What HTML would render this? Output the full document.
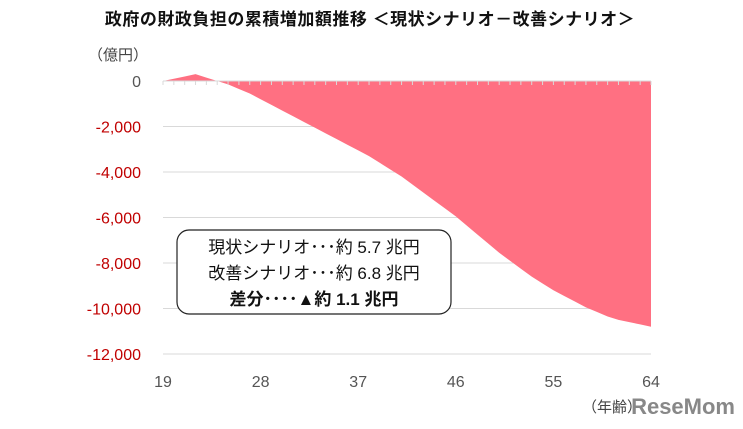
<!DOCTYPE html>
<html><head><meta charset="utf-8"><style>
body{margin:0;width:743px;height:424px;background:#fff;overflow:hidden;font-family:"Liberation Sans","Noto Sans CJK JP",sans-serif}
</style></head><body>
<svg id="c" width="743" height="424" xmlns="http://www.w3.org/2000/svg">
<text x="370" y="25" text-anchor="middle" font-size="17" font-weight="bold" fill="#111" letter-spacing="0.5">政府の財政負担の累積増加額推移 ＜現状シナリオ－改善シナリオ＞</text>
<text x="88" y="60" font-size="15" fill="#444">（億円）</text>
<g id="grid"></g><g id="area"></g><g id="ticks"></g><g id="ylab"></g><g id="xlab"></g>
<text x="582" y="412" font-size="15" fill="#444">（年齢）</text>
<text x="735" y="414" text-anchor="end" font-size="22" font-weight="bold" fill="#888">ReseMom</text>
<g>
<rect x="177" y="230" width="274" height="84" rx="12" fill="#fff" stroke="#222" stroke-width="1.2"/>
<text x="314" y="253" text-anchor="middle" font-size="17" fill="#111">現状シナリオ･･･約 5.7 兆円</text>
<text x="314" y="279" text-anchor="middle" font-size="17" fill="#111">改善シナリオ･･･約 6.8 兆円</text>
<text x="314" y="305" text-anchor="middle" font-size="17" font-weight="bold" fill="#111">差分････▲約 1.1 兆円</text>
</g>
</svg>
<script>
const ages=[19,20,21,22,23,24,25,26,27,28,29,30,31,32,33,34,35,36,37,38,39,40,41,42,43,44,45,46,47,48,49,50,51,52,53,54,55,56,57,58,59,60,61,62,63,64];
const values=[0,100,200,300,150,0,-150,-350,-550,-800,-1050,-1300,-1550,-1800,-2050,-2300,-2550,-2800,-3050,-3300,-3600,-3900,-4200,-4550,-4900,-5250,-5600,-5950,-6350,-6750,-7150,-7550,-7900,-8250,-8600,-8900,-9200,-9450,-9700,-9950,-10150,-10350,-10500,-10600,-10700,-10800];
const yTicks=[0,-2000,-4000,-6000,-8000,-10000,-12000];
const yTickLabels=["0","-2,000","-4,000","-6,000","-8,000","-10,000","-12,000"];
const xTicks=[19,28,37,46,55,64];
const NS="http://www.w3.org/2000/svg";
const X=a=>163+(a-19)*(651-163)/45;
const Y=v=>81+(-v)*(354-81)/12000;
function mk(t,p,at){const e=document.createElementNS(NS,t);for(const k in at)e.setAttribute(k,at[k]);document.getElementById(p).appendChild(e);return e;}
yTicks.forEach((v,i)=>{
 if(v!==0){const l=mk('line','grid',{x1:163,x2:651,y1:Y(v),y2:Y(v),stroke:'#d9d9d9','stroke-width':1});
 
 }
 const t=mk('text','ylab',{x:141,y:Y(v)+6,'text-anchor':'end','font-size':16,fill:v===0?'#555':'#c00000'});
 t.textContent=yTickLabels[i];
 
 
});
let d='M'+X(ages[0])+','+Y(0);
ages.forEach((a,i)=>{d+=' L'+X(a)+','+Y(values[i]);});
d+=' L'+X(ages[ages.length-1])+','+Y(0)+' Z';
const p=mk('path','area',{d:d,fill:'#ff7082'});


const ax=mk('line','ticks',{x1:163,x2:651,y1:Y(0),y2:Y(0),stroke:'#d9d9d9'});


ages.forEach(a=>{const t=mk('line','ticks',{x1:X(a),x2:X(a),y1:Y(0),y2:Y(0)+4,stroke:'#d9d9d9'});
 
 });
xTicks.forEach(a=>{const t=mk('text','xlab',{x:X(a),y:387,'text-anchor':'middle','font-size':16,fill:'#555'});
 t.textContent=a;
 
 });
</script>
</body></html>
